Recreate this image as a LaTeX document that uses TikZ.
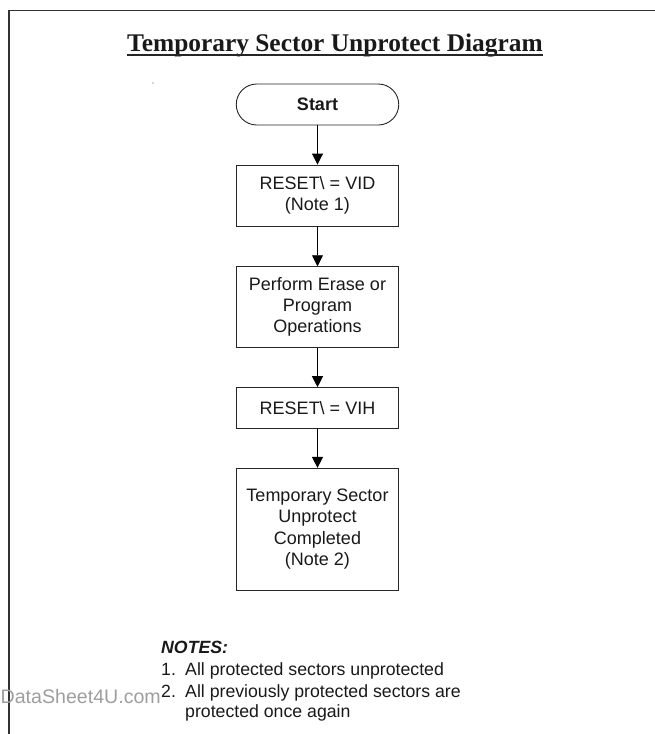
\documentclass[tikz,border=0pt]{standalone}
\usepackage{fontspec}
\setmainfont{Liberation Serif}
\setsansfont{Liberation Sans}
\usetikzlibrary{arrows.meta}
\begin{document}
\begin{tikzpicture}[x=1pt,y=-1pt,
  stepbox/.style={draw=black!85, line width=0.9pt, rectangle, minimum width=162.5pt, inner sep=0pt, align=center, text=black!90, font=\sffamily\fontsize{18}{21.3}\selectfont},
  startbox/.style={stepbox, rounded corners=20.5pt, minimum height=41pt},
  arr/.style={draw=black, line width=0.9pt, -{Triangle[width=11pt,length=11pt]}},
  notetext/.style={anchor=base west, inner sep=0pt, text=black!90, font=\sffamily\fontsize{17.7}{20}\selectfont}
]
\useasboundingbox (0,0) rectangle (655,734);
% frame
\draw[line width=1.5pt, black!80] (9,734) -- (9,10.5) -- (655,10.5);
% title
\node[anchor=base west, inner sep=0pt, text=black!90, font=\rmfamily\bfseries\fontsize{25.4}{30}\selectfont] (title) at (127,51.5) {Temporary Sector Unprotect Diagram};
\draw[line width=1.4pt, black!85] ([yshift=-3.3pt]title.base west) -- ([yshift=-3.3pt]title.base east);
% stray dot
\fill[black!70] (153,83) circle (0.7pt);
% flowchart
\node[startbox, font=\sffamily\bfseries\fontsize{18}{21.3}\selectfont] (start) at (317.5,104.5) {Start};
\node[stepbox, minimum height=61pt] (b1) at (317.5,195.5) {RESET\textbackslash{} = VID\\(Note 1)};
\node[stepbox, minimum height=80.6pt] (b2) at (317.5,307) {Perform Erase or\\Program\\Operations};
\node[stepbox, minimum height=40.3pt] (b3) at (317.5,407.8) {RESET\textbackslash{} = VIH};
\node[stepbox, minimum height=121.7pt] (b4) at (317.5,529.2) {Temporary Sector\\Unprotect\\Completed\\(Note 2)};
\draw[arr] (start) -- (b1);
\draw[arr] (b1) -- (b2);
\draw[arr] (b2) -- (b3);
\draw[arr] (b3) -- (b4);
% notes
\node[notetext, font=\sffamily\bfseries\itshape\fontsize{17.7}{20}\selectfont] (notes) at (161,653) {NOTES:};
\node[notetext] (n1num) at (161,675) {1.};
\node[notetext] (n1) at (185,675) {All protected sectors unprotected};
\node[notetext] (n2num) at (161,697) {2.};
\node[notetext] (n2) at (185,697) {All previously protected sectors are};
\node[notetext] (n2b) at (185,717) {protected once again};
% watermark
\node[anchor=base east, inner sep=0pt, text=black!38, font=\sffamily\fontsize{19.6}{23}\selectfont] (wm) at (161,703) {DataSheet4U.com};
\end{tikzpicture}
\end{document}
